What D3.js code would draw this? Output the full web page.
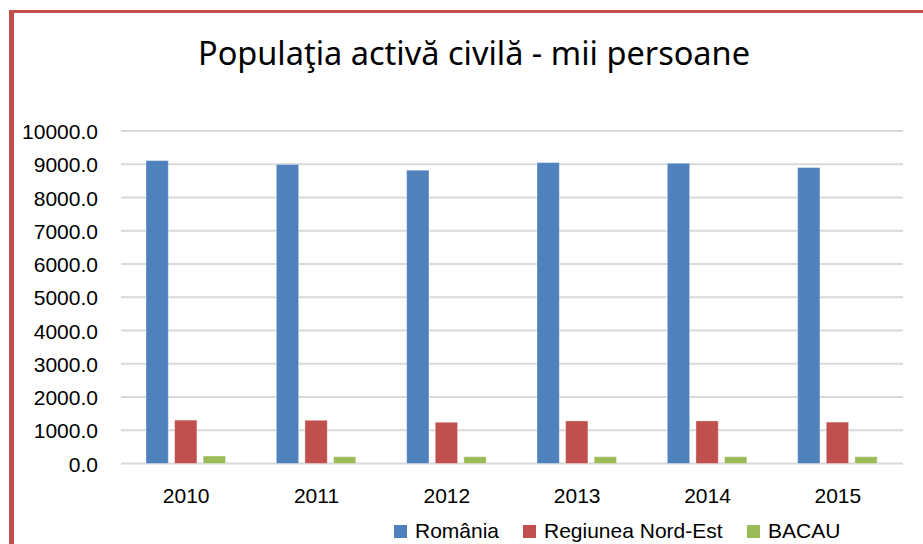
<!DOCTYPE html>
<html>
<head>
<meta charset="utf-8">
<script src="https://cdn.jsdelivr.net/npm/d3@7"></script>
<style>
  html, body { margin: 0; padding: 0; background: #fff; }
  svg { display: block; }
</style>
</head>
<body>
<svg id="chart" width="923" height="544"></svg>
<script>
const title = "Populaţia activă civilă - mii persoane";
const years = ["2010", "2011", "2012", "2013", "2014", "2015"];
const seriesNames = ["România", "Regiunea Nord-Est", "BACAU"];
const romania = [9110, 8995, 8820, 9050, 9030, 8900];
const nordEst = [1305, 1300, 1240, 1280, 1280, 1245];
const bacau = [225, 205, 205, 205, 205, 205];
const yTicks = [0, 1000, 2000, 3000, 4000, 5000, 6000, 7000, 8000, 9000, 10000];
const colors = ["#4F81BD", "#C0504D", "#9BBB59"];

const seriesValues = [romania, nordEst, bacau];
const svg = d3.select("#chart");
const baseFont = "'Liberation Sans', Arial, sans-serif";

// outer frame (partially visible)
svg.append("rect").attr("x", 9).attr("y", 10).attr("width", 5).attr("height", 540).attr("fill", "#C0504D");
svg.append("rect").attr("x", 9).attr("y", 10).attr("width", 930).attr("height", 3).attr("fill", "#C0504D");

const x = d3.scaleBand().domain(years).range([121, 903]).paddingInner(0).paddingOuter(0);
const xInner = d3.scaleBand().domain(seriesNames).range([25, 104.5]).paddingInner(0.22).paddingOuter(0);
const y = d3.scaleLinear().domain([0, 10000]).range([463.5, 131]);

// gridlines
svg.append("g").selectAll("line").data(yTicks).join("line")
  .attr("x1", 121).attr("x2", 903)
  .attr("y1", d => y(d)).attr("y2", d => y(d))
  .attr("stroke", "#D9D9D9").attr("stroke-width", 2);

// y axis labels
const yAxis = d3.axisLeft(y).tickValues(yTicks).tickFormat(d3.format(".1f")).tickSize(0).tickPadding(0);
const gy = svg.append("g").attr("transform", "translate(98,0)").call(yAxis);
gy.select(".domain").remove();
gy.selectAll("text").style("font-size", "21px").style("font-family", baseFont).attr("fill", "#000").attr("dy", "0.36em");

// bars
const groups = svg.append("g").selectAll("g").data(years).join("g")
  .attr("transform", d => `translate(${x(d)},0)`);
groups.selectAll("rect").data((d, i) => seriesNames.map((s, j) => ({ s, j, v: seriesValues[j][i] })))
  .join("rect")
  .attr("x", d => xInner(d.s))
  .attr("width", xInner.bandwidth())
  .attr("y", d => y(d.v))
  .attr("height", d => y(0) - y(d.v))
  .attr("fill", d => colors[d.j])
  .attr("stroke", "rgba(255,255,255,0.35)").attr("stroke-width", 1);

// x axis labels
const xAxis = d3.axisBottom(x).tickSize(0).tickPadding(0);
const gx = svg.append("g").attr("transform", "translate(0,488)").call(xAxis);
gx.select(".domain").remove();
gx.selectAll("text").style("font-size", "21px").style("font-family", baseFont).attr("fill", "#000").attr("dy", "0.71em");

// title
svg.append("text").attr("x", 474).attr("y", 65).attr("text-anchor", "middle")
  .style("font-family", "'Noto Sans', 'Open Sans', sans-serif")
  .style("font-size", "32.5px").attr("fill", "#000").text(title);

// legend
const legendX = [394, 523, 747];
const lg = svg.append("g").selectAll("g").data(seriesNames).join("g")
  .attr("transform", (d, i) => `translate(${legendX[i]},525)`);
lg.append("rect").attr("width", 13).attr("height", 13).attr("fill", (d, i) => colors[i]);
lg.append("text").attr("x", 21).attr("y", 13)
  .style("font-size", "21px").style("font-family", baseFont).attr("fill", "#000").text(d => d);
</script>
</body>
</html>
